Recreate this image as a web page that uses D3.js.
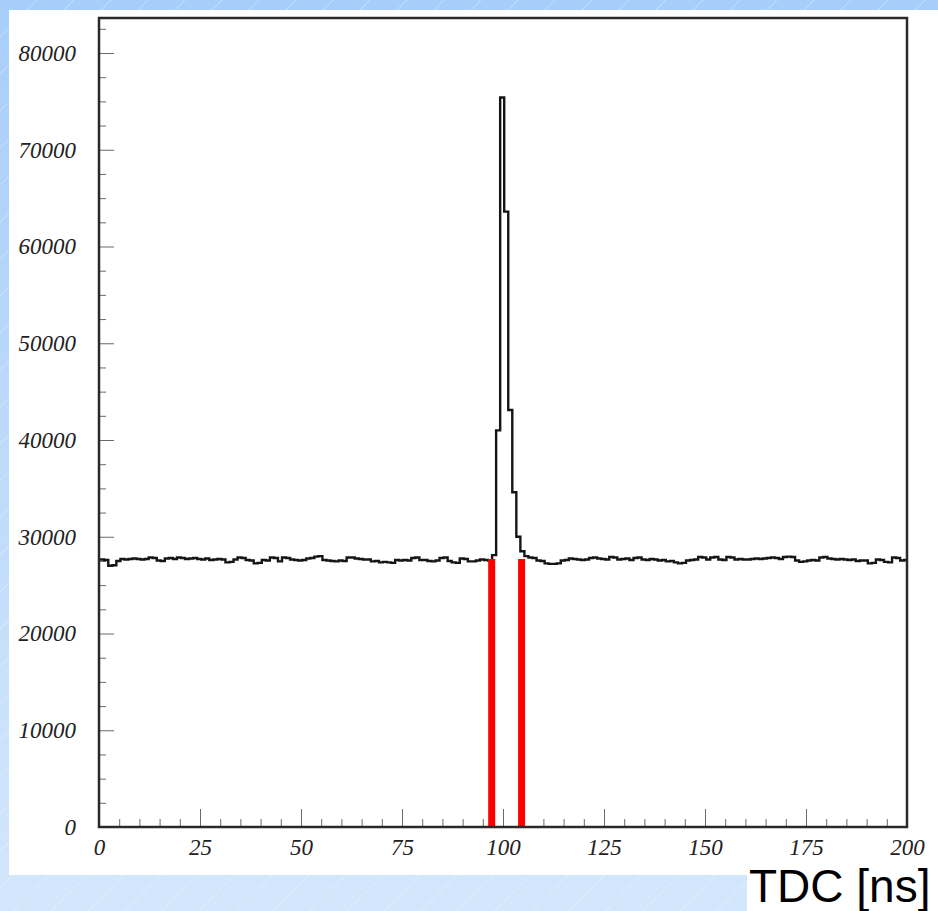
<!DOCTYPE html>
<html>
<head>
<meta charset="utf-8">
<script src="https://cdn.jsdelivr.net/npm/d3@7"></script>
<style>
  html, body { margin: 0; padding: 0; background: #bcdcfb; }
  svg { display: block; }
</style>
</head>
<body>
<svg id="chart" width="938" height="911"></svg>
<script>
// ---- Data ----
// Histogram counts per TDC bin (1 ns wide)
const counts = [
  27650, 27600, 27000, 27050, 27500, 27700, 27650, 27700, 27750, 27700,
  27650, 27700, 27850, 27800, 27550, 27500, 27750, 27800, 27700, 27850,
  27800, 27700, 27750, 27800, 27700, 27650, 27750, 27600, 27650, 27700,
  27650, 27350, 27400, 27650, 27850, 27800, 27600, 27550, 27250, 27300,
  27600, 27550, 27850, 27800, 27450, 27850, 27800, 27650, 27600, 27550,
  27600, 27750, 27800, 27950, 28000, 27600, 27550, 27500, 27450, 27550,
  27500, 27850, 27850, 27750, 27700, 27650, 27650, 27450, 27500, 27350,
  27400, 27350, 27300, 27600, 27550, 27600, 27550, 27800, 27850, 27600,
  27600, 27500, 27450, 27550, 27800, 27850, 27500, 27350, 27300, 27750,
  27700, 27450, 27450, 27550, 27650, 27600, 27550, 28100, 41000, 75400,
  63600, 43100, 34600, 30000, 28500, 28000, 27850, 27800, 27550, 27500,
  27250, 27200, 27200, 27250, 27550, 27600, 27750, 27700, 27650, 27600,
  27650, 27800, 27850, 27750, 27700, 27650, 27900, 27850, 27650, 27700,
  27750, 27600, 27800, 27850, 27650, 27600, 27700, 27650, 27550, 27600,
  27450, 27500, 27350, 27250, 27300, 27550, 27600, 27650, 27900, 27850,
  27650, 27850, 27900, 27650, 27600, 27900, 27850, 27650, 27700, 27650,
  27650, 27700, 27750, 27700, 27750, 27800, 27850, 27800, 27700, 27900,
  27950, 27900, 27550, 27400, 27450, 27550, 27600, 27550, 27850, 27900,
  27750, 27700, 27650, 27700, 27650, 27600, 27650, 27500, 27550, 27550,
  27250, 27300, 27650, 27600, 27400, 27350, 27850, 27800, 27550, 27600
];
const binWidth = 1;                 // ns
const binOffset = 0.3;              // ns, position of bin edges relative to integer ns
const xDomain = [0, 200];           // ns
const yDomain = [0, 80000];
const xMajorTicks = [0, 25, 50, 75, 100, 125, 150, 175, 200];
const yMajorTicks = [0, 10000, 20000, 30000, 40000, 50000, 60000, 70000, 80000];
const xMinorStep = 5;
const yMinorStep = 2500;
const cutLines = [97.2, 104.6];     // ns, red selection window
const cutTop = 27700;               // counts, top of red markers
const axisTitle = "TDC [ns]";

// ---- Layout ----
const W = 938, H = 911;
const plot = { left: 99, right: 907, top: 18, bottom: 827 };

const svg = d3.select("#chart");
const defs = svg.append("defs");

const grad = defs.append("linearGradient").attr("id", "bg")
  .attr("x1", 0).attr("y1", 0).attr("x2", 0).attr("y2", 1);
grad.append("stop").attr("offset", "0%").attr("stop-color", "#a7cefa");
grad.append("stop").attr("offset", "100%").attr("stop-color", "#d3e7fc");
svg.append("rect").attr("width", W).attr("height", H).attr("fill", "url(#bg)");

const diag = svg.append("g").attr("stroke", "#ffffff").attr("stroke-opacity", 0.35).attr("stroke-width", 1);
for (let k = -H; k < W + H; k += 37) {
  diag.append("line").attr("x1", k).attr("y1", H).attr("x2", k + H).attr("y2", 0);
}

svg.append("rect").attr("x", 9).attr("y", 10).attr("width", W - 9).attr("height", 865).attr("fill", "#ffffff");
svg.append("rect").attr("x", 747).attr("y", 875).attr("width", W - 747).attr("height", H - 875).attr("fill", "#ffffff");

// ---- Scales ----
const x = d3.scaleLinear().domain(xDomain).range([plot.left, plot.right]);
const y = d3.scaleLinear().domain(yDomain).range([plot.bottom, 53]);

const labelFont = "'Liberation Serif', 'Times New Roman', serif";

const xMinor = d3.range(xDomain[0], xDomain[1] + 0.001, xMinorStep).filter(v => !xMajorTicks.includes(v));
const yMinor = d3.range(yDomain[0], 82500 + 1, yMinorStep).filter(v => !yMajorTicks.includes(v));
const yExt = d3.scaleLinear().domain([0, 82500]).range([plot.bottom, y(82500)]);

const gxMinor = svg.append("g").attr("transform", `translate(0,${plot.bottom})`)
  .call(d3.axisBottom(x).tickValues(xMinor).tickSize(-8).tickFormat(""));
const gyMinor = svg.append("g").attr("transform", `translate(${plot.left},0)`)
  .call(d3.axisLeft(yExt).tickValues(yMinor).tickSize(-7).tickFormat(""));

const gx = svg.append("g").attr("transform", `translate(0,${plot.bottom})`)
  .call(d3.axisBottom(x).tickValues(xMajorTicks).tickSize(-18).tickPadding(12).tickFormat(d3.format("d")));
const gy = svg.append("g").attr("transform", `translate(${plot.left},0)`)
  .call(d3.axisLeft(y).tickValues(yMajorTicks).tickSize(-15).tickPadding(23).tickFormat(d3.format("d")));

[gxMinor, gyMinor, gx, gy].forEach(g => {
  g.select(".domain").remove();
  g.selectAll(".tick line").attr("stroke", "#6a6a6a").attr("stroke-width", 1);
});
[gx, gy].forEach(g => {
  g.selectAll(".tick text")
    .attr("font-family", labelFont)
    .attr("font-style", "italic")
    .attr("font-size", 23)
    .attr("fill", "#222");
});

// histogram as step line (bin edges at i + offset, clipped to the axis range)
const pts = counts.map((c, i) => [i === 0 ? xDomain[0] : Math.min(i * binWidth + binOffset, xDomain[1]), c]);
pts.push([xDomain[1], counts[counts.length - 1]]);
const line = d3.line().x(d => x(d[0])).y(d => y(d[1])).curve(d3.curveStepAfter);
svg.append("path").datum(pts)
  .attr("d", line)
  .attr("fill", "none")
  .attr("stroke", "#151515")
  .attr("stroke-width", 2.4)
  .attr("stroke-linejoin", "miter");

// red cut markers
svg.append("g").selectAll("line").data(cutLines).join("line")
  .attr("x1", d => x(d)).attr("x2", d => x(d))
  .attr("y1", y(cutTop)).attr("y2", y(0))
  .attr("stroke", "#ff0000").attr("stroke-width", 7);

// frame
svg.append("rect")
  .attr("x", plot.left).attr("y", plot.top)
  .attr("width", plot.right - plot.left).attr("height", plot.bottom - plot.top)
  .attr("fill", "none").attr("stroke", "#2a2a2a").attr("stroke-width", 2.5);

// axis title
svg.append("text")
  .attr("x", 749).attr("y", 902)
  .attr("font-family", "'Liberation Sans', Arial, sans-serif")
  .attr("font-size", 46)
  .attr("fill", "#000")
  .text(axisTitle);
</script>
</body>
</html>
